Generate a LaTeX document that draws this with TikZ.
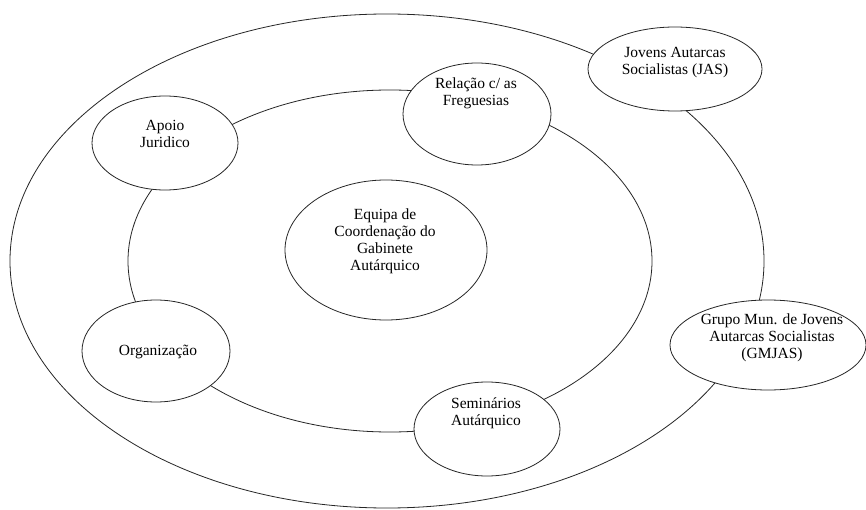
\documentclass[tikz,border=0pt]{standalone}
\usepackage{fontspec}
\setmainfont{Liberation Serif}
\usetikzlibrary{shapes.geometric}
\begin{document}
\begin{tikzpicture}[x=1pt,y=-1pt,
  ringnode/.style={ellipse, draw=black!85, line width=0.8pt, inner sep=0pt},
  bubble/.style={ellipse, draw=black!85, line width=0.8pt, fill=white, inner sep=0pt},
  lbl/.style={align=center, font=\fontsize{15.5}{17}\selectfont, text=black, inner sep=0pt}]
\useasboundingbox[fill=white] (0,0) rectangle (866,510);
% rings
\node[ringnode, minimum width=754pt, minimum height=494pt] (outer) at (387,261) {};
\node[ringnode, minimum width=524pt, minimum height=342pt] (inner) at (390,261) {};
% bubbles
\node[bubble, minimum width=202pt, minimum height=140pt] (equipa) at (386,250) {};
\node[bubble, minimum width=148pt, minimum height=102pt] (rel) at (477,114) {};
\node[bubble, minimum width=146pt, minimum height=94pt] (apoio) at (165,143) {};
\node[bubble, minimum width=148pt, minimum height=102pt] (org) at (156,351) {};
\node[bubble, minimum width=146pt, minimum height=94pt] (sem) at (487,429) {};
\node[bubble, minimum width=174pt, minimum height=84pt] (jas) at (675,69) {};
\node[bubble, minimum width=196pt, minimum height=90pt] (gm) at (768,345) {};
% labels
\node[lbl] (tequipa) at (385,241.5) {Equipa de\\Coordenação do\\Gabinete\\Autárquico};
\node[lbl] (trel) at (476,93.5) {Relação c/ as\\Freguesias};
\node[lbl] (tapoio) at (165,134) {Apoio\\Juridico};
\node[lbl] (torg) at (158,352) {Organização};
\node[lbl] (tsem) at (486,413) {Seminários\\Autárquico};
\node[lbl] (tjas) at (675,63) {Jovens Autarcas\\Socialistas (JAS)};
\node[lbl] (tgm) at (772,338) {Grupo Mun. de Jovens\\Autarcas Socialistas\\(GMJAS)};
\end{tikzpicture}
\end{document}
